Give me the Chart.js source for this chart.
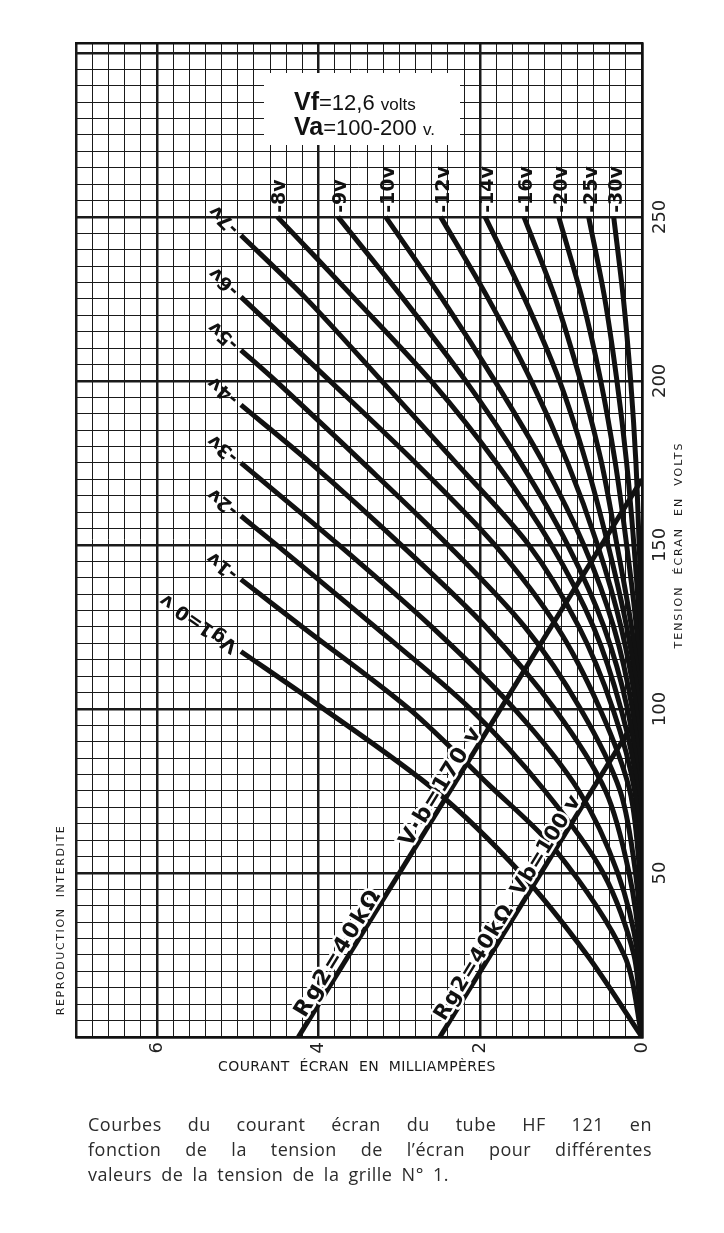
<!DOCTYPE html>
<html><head><meta charset="utf-8">
<script src="https://cdn.jsdelivr.net/npm/chart.js@4.4.1/dist/chart.umd.min.js"></script>
<style>
html,body{margin:0;padding:0;background:#fff;}
#wrap{position:relative;width:724px;height:1233px;overflow:hidden;background:#fff;}
canvas{position:absolute;left:0;top:0;}
.cap{position:absolute;left:88px;width:564px;font-family:"Open Sans";font-size:18px;color:#2b2b2b;letter-spacing:0.5px;line-height:25px;white-space:nowrap;}
.j{text-align:justify;text-align-last:justify;}
</style></head>
<body><div id="wrap"><canvas id="c" width="724" height="1233"></canvas>
<div class="cap j" style="top:1112px">Courbes du courant écran du tube HF 121 en</div>
<div class="cap j" style="top:1137px">fonction de la tension de l’écran pour différentes</div>
<div class="cap" style="top:1162px;word-spacing:4px">valeurs de la tension de la grille N° 1.</div>
</div>
<script>
// ---- axis tick labels ----
const currentTickLabels = [0, 2, 4, 6];          // mA
const voltTickLabels = [50, 100, 150, 200, 250];  // V

// ---- curve labels (grid 1 voltage) ----
const curveNames = ['Vg1=0 v','-1v','-2v','-3v','-4v','-5v','-6v','-7v','-8v','-9v','-10v','-12v','-14v','-16v','-20v','-25v','-30v'];

// ---- curves that start at 5 mA (screen voltage V, screen current mA) ----
const vg1_0_V  = [117.5, 102, 75, 50, 25, 0];
const vg1_0_mA = [4.96, 4.05, 2.55, 1.5, 0.68, 0];
const vg1_1_V  = [139.5, 125, 100, 77, 57, 25, 0];
const vg1_1_mA = [4.96, 4.2, 2.88, 1.9, 1.07, 0.22, 0];
const vg1_2_V  = [158.8, 150, 125, 100, 75, 50, 25, 0];
const vg1_2_mA = [4.96, 4.52, 3.3, 2.12, 1.2, 0.48, 0.1, 0];
const vg1_3_V  = [175, 150, 125, 100, 75, 50, 25, 0];
const vg1_3_mA = [4.96, 3.75, 2.6, 1.58, 0.78, 0.3, 0.05, 0];
const vg1_4_V  = [192.7, 175, 150, 125, 100, 75, 50, 25, 0];
const vg1_4_mA = [4.96, 4.1, 2.98, 1.93, 1.08, 0.45, 0.16, 0.02, 0];
const vg1_5_V  = [209.4, 200, 175, 150, 125, 100, 75, 50, 25, 0];
const vg1_5_mA = [4.96, 4.53, 3.45, 2.4, 1.45, 0.76, 0.27, 0.08, 0, 0];
const vg1_6_V  = [225.6, 200, 175, 150, 125, 100, 75, 50, 25, 0];
const vg1_6_mA = [4.96, 3.86, 2.8, 1.82, 1.05, 0.52, 0.15, 0.03, 0, 0];
const vg1_7_V  = [244.4, 225, 200, 175, 150, 125, 100, 75, 50, 25, 0];
const vg1_7_mA = [4.96, 4.15, 3.22, 2.3, 1.4, 0.78, 0.36, 0.09, 0.01, 0, 0];

// ---- curves that start at 250 V ----
const voltsUpper = [250, 225, 200, 175, 150, 125, 100, 75, 50, 25, 0];
const vg1_8_mA  = [4.51, 3.55, 2.61, 1.8, 1.12, 0.6, 0.26, 0.05, 0, 0, 0];
const vg1_9_mA  = [3.76, 2.95, 2.18, 1.5, 0.92, 0.47, 0.18, 0.03, 0, 0, 0];
const vg1_10_mA = [3.17, 2.47, 1.82, 1.22, 0.72, 0.35, 0.12, 0.01, 0, 0, 0];
const vg1_12_mA = [2.49, 1.9, 1.37, 0.92, 0.55, 0.26, 0.07, 0, 0, 0, 0];
const vg1_14_mA = [1.94, 1.45, 1.02, 0.69, 0.42, 0.19, 0.03, 0, 0, 0, 0];
const vg1_16_mA = [1.46, 1.07, 0.76, 0.5, 0.31, 0.13, 0.01, 0, 0, 0, 0];
const vg1_20_mA = [1.03, 0.74, 0.51, 0.33, 0.19, 0.07, 0, 0, 0, 0, 0];
const vg1_25_mA = [0.66, 0.46, 0.31, 0.19, 0.1, 0.03, 0, 0, 0, 0, 0];
const vg1_30_mA = [0.35, 0.23, 0.14, 0.075, 0.035, 0, 0, 0, 0, 0, 0];

// ---- load lines Rg2 = 40 kOhm ----
const load170_mA = [4.25, 0];
const load170_V  = [0, 170];
const load100_mA = [2.5, 0];
const load100_V  = [0, 100];

const curveSeries = [
  [vg1_0_mA, vg1_0_V], [vg1_1_mA, vg1_1_V], [vg1_2_mA, vg1_2_V], [vg1_3_mA, vg1_3_V],
  [vg1_4_mA, vg1_4_V], [vg1_5_mA, vg1_5_V], [vg1_6_mA, vg1_6_V], [vg1_7_mA, vg1_7_V],
  [vg1_8_mA, voltsUpper], [vg1_9_mA, voltsUpper], [vg1_10_mA, voltsUpper], [vg1_12_mA, voltsUpper],
  [vg1_14_mA, voltsUpper], [vg1_16_mA, voltsUpper], [vg1_20_mA, voltsUpper], [vg1_25_mA, voltsUpper],
  [vg1_30_mA, voltsUpper]
];
const pts = (xs, ys) => xs.map((x, i) => ({x: x, y: ys[i]}));

const datasets = curveSeries.map((s, i) => ({
  data: pts(s[0], s[1]),
  curveLabel: curveNames[i],
  labelMode: i < 8 ? 'side' : 'top'
}));
datasets.push({data: pts(load170_mA, load170_V), loadLine: 170, tension: 0});
datasets.push({data: pts(load100_mA, load100_V), loadLine: 100, tension: 0});
datasets.forEach(d => { d.showLine = true; d.fill = false; d.pointRadius = 0; d.borderColor = '#111'; d.borderWidth = 5; });

const near = (v, m) => Math.abs(v / m - Math.round(v / m)) < 1e-6;

function drawLoadLabel(ctx, chart, mA, V, text, vStart, font, spacing) {
  const xs = chart.scales.x, ys = chart.scales.y;
  const x0 = xs.getPixelForValue(mA[0]), y0 = ys.getPixelForValue(V[0]);
  const x1 = xs.getPixelForValue(mA[1]), y1 = ys.getPixelForValue(V[1]);
  const t = (vStart - V[0]) / (V[1] - V[0]);
  const px = x0 + (x1 - x0) * t, py = y0 + (y1 - y0) * t;
  const ang = Math.atan2(y1 - y0, x1 - x0);
  ctx.save();
  ctx.translate(px, py);
  ctx.rotate(ang);
  ctx.font = font;
  ctx.letterSpacing = spacing;
  ctx.textAlign = 'left';
  ctx.textBaseline = 'alphabetic';
  ctx.lineJoin = 'round';
  ctx.strokeStyle = '#fff';
  ctx.lineWidth = 5;
  ctx.strokeText(text, 0, -4);
  ctx.fillStyle = '#111';
  ctx.fillText(text, 0, -4);
  ctx.restore();
}

const textPlugin = {
  id: 'texts',
  beforeDatasetsDraw(chart) {
    const ctx = chart.ctx;
    ctx.save();
    ctx.fillStyle = '#fff';
    ctx.fillRect(264, 73, 196, 72);
    ctx.fillStyle = '#111';
    ctx.textBaseline = 'alphabetic';
    ctx.textAlign = 'left';
    let x = 294;
    ctx.font = 'bold 25px "Liberation Sans"';
    ctx.fillText('Vf', x, 110); x += ctx.measureText('Vf').width;
    ctx.font = '22px "Liberation Sans"';
    ctx.fillText('=12,6', x, 110); x += ctx.measureText('=12,6 ').width;
    ctx.font = '17px "Liberation Sans"';
    ctx.fillText('volts', x, 110);
    x = 294;
    ctx.font = 'bold 25px "Liberation Sans"';
    ctx.fillText('Va', x, 135); x += ctx.measureText('Va').width;
    ctx.font = '22px "Liberation Sans"';
    ctx.fillText('=100-200', x, 135); x += ctx.measureText('=100-200 ').width;
    ctx.font = '17px "Liberation Sans"';
    ctx.fillText('v.', x, 135);
    ctx.restore();
  },
  afterDatasetsDraw(chart) {
    const ctx = chart.ctx;
    chart.data.datasets.forEach((ds, i) => {
      if (!ds.curveLabel) return;
      const meta = chart.getDatasetMeta(i);
      const p0 = meta.data[0], p1 = meta.data[1];
      ctx.save();
      ctx.fillStyle = '#111';
      ctx.font = 'bold 19px "DejaVu Sans"';
      ctx.textAlign = 'left';
      ctx.textBaseline = 'middle';
      if (ds.labelMode === 'top') {
        ctx.translate(p0.x + 3, p0.y - 4);
        ctx.rotate(-Math.PI / 2);
      } else {
        const ang = Math.atan2(p0.y - p1.y, p0.x - p1.x);
        ctx.translate(p0.x + 6 * Math.cos(ang), p0.y + 6 * Math.sin(ang));
        ctx.rotate(ang);
      }
      ctx.fillText(ds.curveLabel, 0, 0);
      ctx.restore();
    });
    drawLoadLabel(ctx, chart, load170_mA, load170_V, 'Rg2=40kΩ', 5, 'bold 22px "DejaVu Sans"', '2px');
    drawLoadLabel(ctx, chart, load170_mA, load170_V, 'V·b=170 v', 57, 'bold 22px "DejaVu Sans"', '1px');
    drawLoadLabel(ctx, chart, load100_mA, load100_V, 'Rg2=40kΩ', 4, 'bold 21px "DejaVu Sans"', '1px');
    drawLoadLabel(ctx, chart, load100_mA, load100_V, 'Vb=100 v', 42, 'bold 21px "DejaVu Sans"', '0px');
  },
  afterDraw(chart) {
    const ctx = chart.ctx;
    ctx.save();
    ctx.fillStyle = '#1a1a1a';
    ctx.textBaseline = 'middle';
    ctx.textAlign = 'center';
    ctx.font = '14px "DejaVu Sans"';
    ctx.letterSpacing = '0.4px';
    ctx.fillText('COURANT  ÉCRAN  EN  MILLIAMPÈRES', 357, 1067);
    ctx.font = '11px "DejaVu Sans"';
    ctx.letterSpacing = '2px';
    ctx.save();
    ctx.translate(679, 545);
    ctx.rotate(-Math.PI / 2);
    ctx.fillText('TENSION  ÉCRAN  EN  VOLTS', 0, 0);
    ctx.restore();
    ctx.letterSpacing = '1.6px';
    ctx.save();
    ctx.translate(61, 920);
    ctx.rotate(-Math.PI / 2);
    ctx.fillText('REPRODUCTION  INTERDITE', 0, 0);
    ctx.restore();
    ctx.restore();
  }
};

new Chart(document.getElementById('c'), {
  type: 'scatter',
  data: {datasets: datasets},
  options: {
    responsive: false,
    animation: false,
    devicePixelRatio: 1,
    layout: {padding: {left: 76, top: 43, right: 42, bottom: 171}},
    plugins: {legend: {display: false}, tooltip: {enabled: false}},
    elements: {point: {radius: 0}, line: {tension: 0.3, borderCapStyle: 'butt', borderJoinStyle: 'round'}},
    scales: {
      x: {
        type: 'linear', reverse: true, min: 0, max: 7, position: 'bottom',
        afterFit(s) { s.height = 25; },
        ticks: {
          stepSize: 0.2, autoSkip: false, minRotation: 90, maxRotation: 90, padding: 5,
          color: '#222', font: {family: 'DejaVu Sans', size: 18},
          callback: v => currentTickLabels.some(t => Math.abs(t - v) < 1e-6) ? String(Math.round(v)) : ''
        },
        grid: {drawTicks: false, color: '#1a1a1a', lineWidth: c => (near(c.tick.value, 2) || Math.abs(c.tick.value - 7) < 1e-6) ? 2.5 : 1},
        border: {display: true, color: '#111', width: 2.5}
      },
      xTop: {
        type: 'linear', reverse: true, min: 0, max: 7, position: 'top', axis: 'x',
        afterFit(s) { s.height = 0; },
        ticks: {display: false},
        grid: {display: false, drawTicks: false},
        border: {display: true, color: '#111', width: 2.5}
      },
      y: {
        type: 'linear', min: 0, max: 303, position: 'right',
        afterFit(s) { s.width = 40; },
        ticks: {
          stepSize: 5, autoSkip: false, includeBounds: false, minRotation: 90, maxRotation: 90,
          crossAlign: 'center', padding: 1,
          color: '#222', font: {family: 'DejaVu Sans', size: 18},
          callback: v => voltTickLabels.indexOf(Math.round(v)) >= 0 && near(v, 50) ? String(Math.round(v)) : ''
        },
        grid: {drawTicks: false, color: '#1a1a1a', lineWidth: c => near(c.tick.value, 50) ? 2.5 : 1},
        border: {display: true, color: '#111', width: 2.5}
      }
    }
  },
  plugins: [textPlugin]
});
</script>
</body></html>
